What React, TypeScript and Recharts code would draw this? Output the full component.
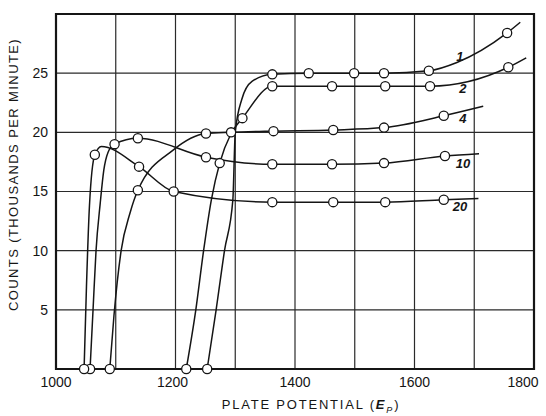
import React from 'react';
import {
  LineChart,
  Line,
  XAxis,
  YAxis,
  CartesianGrid,
  ReferenceArea,
  ReferenceDot,
} from 'recharts';

// plate potential (volts) vs counts (thousands per minute)
// o: an observed point drawn with a circle, the others only shape the hand-drawn curve
const curve1 = [
  { e: 1253, n: 0, o: true },
  { e: 1268, n: 5 },
  { e: 1282, n: 10 },
  { e: 1296, n: 14.3 },
  { e: 1300, n: 20 },
  { e: 1311, n: 22.8 },
  { e: 1328, n: 24.3 },
  { e: 1362, n: 24.9, o: true },
  { e: 1423, n: 25.0, o: true },
  { e: 1499, n: 25.0, o: true },
  { e: 1549, n: 25.0, o: true },
  { e: 1624, n: 25.2, o: true },
  { e: 1671, n: 25.9 },
  { e: 1755, n: 28.4, o: true },
  { e: 1777, n: 29.3 },
];

const curve2 = [
  { e: 1218, n: 0, o: true },
  { e: 1234, n: 5 },
  { e: 1247, n: 10 },
  { e: 1260, n: 14.3 },
  { e: 1274, n: 17.4, o: true },
  { e: 1293, n: 19.9 },
  { e: 1312, n: 21.2, o: true },
  { e: 1362, n: 23.9, o: true },
  { e: 1462, n: 23.9, o: true },
  { e: 1551, n: 23.9, o: true },
  { e: 1626, n: 23.9, o: true },
  { e: 1757, n: 25.5, o: true },
  { e: 1787, n: 26.3 },
];

const curve4 = [
  { e: 1090, n: 0, o: true },
  { e: 1097, n: 4.5 },
  { e: 1109, n: 10 },
  { e: 1124, n: 13.2 },
  { e: 1137, n: 15.1, o: true },
  { e: 1196, n: 18.5 },
  { e: 1251, n: 19.9, o: true },
  { e: 1293, n: 20.0, o: true },
  { e: 1364, n: 20.1, o: true },
  { e: 1464, n: 20.2, o: true },
  { e: 1549, n: 20.4, o: true },
  { e: 1649, n: 21.4, o: true },
  { e: 1715, n: 22.2 },
];

const curve10 = [
  { e: 1057, n: 0, o: true },
  { e: 1062, n: 5 },
  { e: 1067, n: 10 },
  { e: 1074, n: 14 },
  { e: 1080, n: 16.8 },
  { e: 1087, n: 18.3 },
  { e: 1098, n: 19.0, o: true },
  { e: 1137, n: 19.5, o: true },
  { e: 1251, n: 17.9, o: true },
  { e: 1362, n: 17.3, o: true },
  { e: 1462, n: 17.3, o: true },
  { e: 1549, n: 17.4, o: true },
  { e: 1651, n: 18.0, o: true },
  { e: 1708, n: 18.2 },
];

const curve20 = [
  { e: 1047, n: 0, o: true },
  { e: 1051, n: 7 },
  { e: 1056, n: 13.8 },
  { e: 1065, n: 18.1, o: true },
  { e: 1076, n: 18.8 },
  { e: 1139, n: 17.1, o: true },
  { e: 1197, n: 15.0, o: true },
  { e: 1362, n: 14.1, o: true },
  { e: 1464, n: 14.1, o: true },
  { e: 1551, n: 14.1, o: true },
  { e: 1649, n: 14.3, o: true },
  { e: 1707, n: 14.4 },
];

const xTicks = [1000, 1100, 1200, 1300, 1400, 1500, 1600, 1700, 1800];
const xLabels = [1000, 1200, 1400, 1600, 1800];
const yTicks = [0, 5, 10, 15, 20, 25, 30];
const yLabels = [5, 10, 15, 20, 25];

const curves = [
  { name: '1', data: curve1 },
  { name: '2', data: curve2 },
  { name: '4', data: curve4 },
  { name: '10', data: curve10 },
  { name: '20', data: curve20 },
];

const INK = '#151515';
const FONT = '"Liberation Sans", Arial, sans-serif';

const OpenDot = (props: any) => {
  const { cx, cy, payload, index } = props;
  if (!payload?.o) return <g key={`d-${index}`} />;
  return <circle key={`d-${index}`} cx={cx} cy={cy} r={4.6} fill="#fff" stroke={INK} strokeWidth={1.3} />;
};

// last label is pulled in so it stays inside the page
const XTick = ({ x, y, payload }: any) => {
  const v = payload.value;
  if (!xLabels.includes(v)) return <g />;
  const shift = v === 1800 ? -7 : v === 1200 ? -3 : 0;
  return (
    <text x={x + shift} y={y} dy="0.71em" textAnchor="middle" fill={INK}
      style={{ fontFamily: FONT, fontSize: 14 }}>
      {v}
    </text>
  );
};

const XTitle = ({ viewBox }: any) => {
  const { x, y, width } = viewBox;
  return (
    <text x={x + width / 2 + 16} y={y + 40} textAnchor="middle" fill={INK}
      style={{ fontFamily: FONT, fontSize: 13, letterSpacing: 1.8 }}>
      PLATE POTENTIAL  (<tspan fontStyle="italic" fontWeight="bold">E</tspan>
      <tspan fontStyle="italic" fontSize={9} dy={4}>P</tspan>
      <tspan dy={-4}>)</tspan>
    </text>
  );
};

const YTitle = ({ viewBox }: any) => {
  const { y, height } = viewBox;
  const cy = y + height / 2 - 17;
  return (
    <text x={18} y={cy} transform={`rotate(-90, 18, ${cy})`} textAnchor="middle" fill={INK}
      style={{ fontFamily: FONT, fontSize: 13, letterSpacing: 1.4 }}>
      COUNTS  (THOUSANDS PER MINUTE)
    </text>
  );
};

export default function App() {
  return (
    <div style={{ position: 'absolute', left: 0, top: 0, width: 546, height: 416, background: '#fff', fontFamily: FONT }}>
      <LineChart width={546} height={416} margin={{ top: 14, right: 12, left: 0, bottom: 0 }}>
        <CartesianGrid stroke="#2a2a2a" strokeWidth={1.2} />
        <XAxis
          type="number"
          dataKey="e"
          domain={[1000, 1800]}
          ticks={xTicks}
          tickLine={false}
          axisLine={false}
          height={47}
          tick={<XTick />}
          label={<XTitle />}
        />
        <YAxis
          type="number"
          dataKey="n"
          domain={[0, 30]}
          ticks={yTicks}
          tickFormatter={(v) => (yLabels.includes(v) ? String(v) : '')}
          tickLine={false}
          axisLine={false}
          width={56}
          tick={{ fill: INK, fontSize: 14, fontFamily: FONT }}
          label={<YTitle />}
        />
        <ReferenceArea x1={1000} x2={1800} y1={0} y2={30} fill="none" stroke={INK} strokeWidth={2.2} />
        {curves.map((c) => (
          <Line
            key={c.name}
            data={c.data}
            dataKey="n"
            type="monotone"
            stroke={INK}
            strokeWidth={1.5}
            dot={OpenDot}
            activeDot={false}
            isAnimationActive={false}
          />
        ))}
        <ReferenceDot x={1676} y={26.4} r={1} fill="none" stroke="none"
          label={{ value: '1', fill: INK, fontSize: 13, fontStyle: 'italic', fontWeight: 'bold' }} />
        <ReferenceDot x={1681} y={23.7} r={1} fill="none" stroke="none"
          label={{ value: '2', fill: INK, fontSize: 13, fontStyle: 'italic', fontWeight: 'bold' }} />
        <ReferenceDot x={1681} y={21.2} r={1} fill="none" stroke="none"
          label={{ value: '4', fill: INK, fontSize: 13, fontStyle: 'italic', fontWeight: 'bold' }} />
        <ReferenceDot x={1681} y={17.4} r={1} fill="none" stroke="none"
          label={{ value: '10', fill: INK, fontSize: 13, fontStyle: 'italic', fontWeight: 'bold' }} />
        <ReferenceDot x={1676} y={13.7} r={1} fill="none" stroke="none"
          label={{ value: '20', fill: INK, fontSize: 13, fontStyle: 'italic', fontWeight: 'bold' }} />
      </LineChart>
    </div>
  );
}
